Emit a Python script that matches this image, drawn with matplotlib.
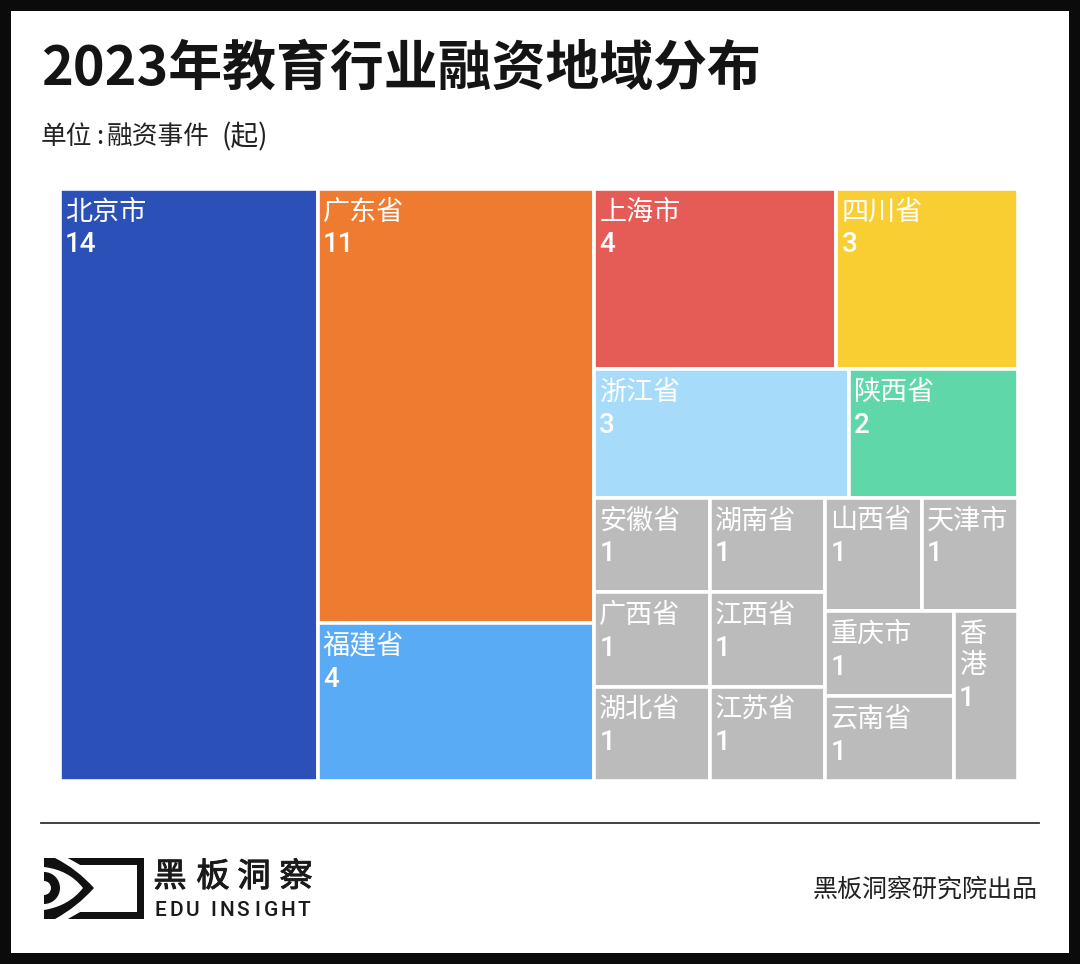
import matplotlib
matplotlib.use('Agg')
import matplotlib.pyplot as plt
import matplotlib.patheffects as pe
from matplotlib.patches import Rectangle, Wedge, PathPatch
from matplotlib.path import Path

plt.rcParams['font.family'] = ['Noto Sans CJK SC', 'DejaVu Sans']

# data
regions = ['北京市', '广东省', '福建省', '上海市', '四川省', '浙江省', '陕西省',
           '安徽省', '湖南省', '广西省', '江西省', '湖北省', '江苏省',
           '山西省', '天津市', '重庆市', '云南省', '香港']
events = [14, 11, 4, 4, 3, 3, 2, 1, 1, 1, 1, 1, 1, 1, 1, 1, 1, 1]

# grouping of the treemap, nested lists of region indexes
tree = [0,
        [1, 2],
        [[3, 4],
         [5, 6],
         [[[7, 8], [9, 10], [11, 12]],
          [[13, 14], [[15, 16], 17]]]]]

colors = ['#2B50B8', '#EE7B30', '#5AABF5', '#E55B56', '#F9CE32', '#A6DCFA', '#5FD7A9'] + ['#BBBBBB'] * 11

W, H = 1080, 964


def total(node):
    if isinstance(node, int):
        return events[node]
    return sum(total(n) for n in node)


def layout(node, x, y, w, h, horizontal, out):
    # slice and dice, direction changes at each level
    if isinstance(node, int):
        out.append((node, x, y, w, h))
        return
    s = total(node)
    for child in node:
        frac = total(child) / s
        if horizontal:
            layout(child, x, y, w * frac, h, False, out)
            x += w * frac
        else:
            layout(child, x, y, w, h * frac, True, out)
            y += h * frac


fig = plt.figure(figsize=(W / 100, H / 100), dpi=100, facecolor='#0B0B0B')

# page in pixel coords: frame, texts, logo
bg = fig.add_axes([0, 0, 1, 1])
bg.set_xlim(0, W)
bg.set_ylim(H, 0)
bg.axis('off')
bg.add_patch(Rectangle((11, 11), 1058, 942, fc='white', ec='none'))

bg.text(41, 69, '2023年教育行业融资地域分布', fontsize=38.8, fontweight='bold', color='#141414',
        va='center')
# subtitle is spaced wider than the font gives
for part, px, fs in zip(['单位', ':', '融资事件', '(起)'], [41, 96, 107, 221], [18.5, 18.5, 18.5, 20]):
    bg.text(px, 137, part, fontsize=fs, color='#222222', va='center')
bg.plot([41, 1039], [823, 823], color='#333333', lw=1.3)
bg.text(1038, 890, '黑板洞察研究院出品', fontsize=18, color='#222222', va='center', ha='right')

# logo
ink = '#111111'
bg.add_patch(Rectangle((44, 858), 100, 7, fc=ink, ec='none'))
bg.add_patch(Rectangle((44, 912), 100, 7, fc=ink, ec='none'))
bg.add_patch(Rectangle((137, 858), 7, 61, fc=ink, ec='none'))
sliver = Path([(52, 857), (66, 857), (82, 866), (60, 872), (52, 857),
               (52, 920), (66, 920), (82, 911), (60, 905), (52, 920)],
              [Path.MOVETO, Path.LINETO, Path.LINETO, Path.LINETO, Path.CLOSEPOLY,
               Path.MOVETO, Path.LINETO, Path.LINETO, Path.LINETO, Path.CLOSEPOLY])
bg.add_patch(PathPatch(sliver, fc='white', ec='none'))
eye = Path([(44, 858), (55, 858), (77, 869), (94, 888), (77, 907), (55, 919), (44, 919),
            (44, 910), (69, 906), (83, 888), (69, 870), (44, 867), (44, 858)],
           [Path.MOVETO, Path.LINETO, Path.CURVE3, Path.CURVE3, Path.CURVE3, Path.CURVE3, Path.LINETO,
            Path.LINETO, Path.CURVE3, Path.CURVE3, Path.CURVE3, Path.CURVE3, Path.CLOSEPOLY])
bg.add_patch(PathPatch(eye, fc=ink, ec='none'))
bg.add_patch(Wedge((44, 888), 16, -90, 90, width=9, fc=ink, ec='none'))

for ch, cx in zip('黑板洞察', [170, 213, 254, 296]):
    t = bg.text(cx, 877, ch, fontsize=24, color='#1A1A1A', ha='center', va='center')
    t.set_path_effects([pe.withStroke(linewidth=0.7, foreground='#1A1A1A')])
for ch, cx in zip('EDUINSIGHT', [160, 176, 193, 213, 227, 243, 257, 271, 288, 304]):
    bg.text(cx, 910, ch, family='Roboto', fontsize=15, fontweight='medium', color='#1A1A1A',
            ha='center', va='center')

# treemap, axes runs over the chart area
L, R, T, B = 60, 1018, 189, 781
ax = fig.add_axes([L / W, 1 - B / H, (R - L) / W, (B - T) / H])
ax.set_xlim(0, 1)
ax.set_ylim(1, 0)
ax.axis('off')

cells = []
layout(tree, 0, 0, 1, 1, True, cells)
PX = 72 / 100  # pixel to points

for i, x, y, w, h in cells:
    ax.add_patch(Rectangle((x, y), w, h, fc=colors[i], ec='white', lw=2.6))
    name = regions[i]
    lines = [name] if len(name) > 2 else list(name)
    dy = 23
    for line in lines:
        ax.annotate(line, (x, y), xytext=(5 * PX, -dy * PX), textcoords='offset points',
                    color='white', fontsize=19.5, va='center', ha='left', annotation_clip=False)
        dy += 31
    dy += 2
    ax.annotate(str(events[i]), (x, y), xytext=(5 * PX, -dy * PX), textcoords='offset points',
                color='white', fontsize=20, family='Roboto', fontweight='medium', va='center', ha='left')

fig.savefig('out.png', dpi=100, facecolor=fig.get_facecolor())
